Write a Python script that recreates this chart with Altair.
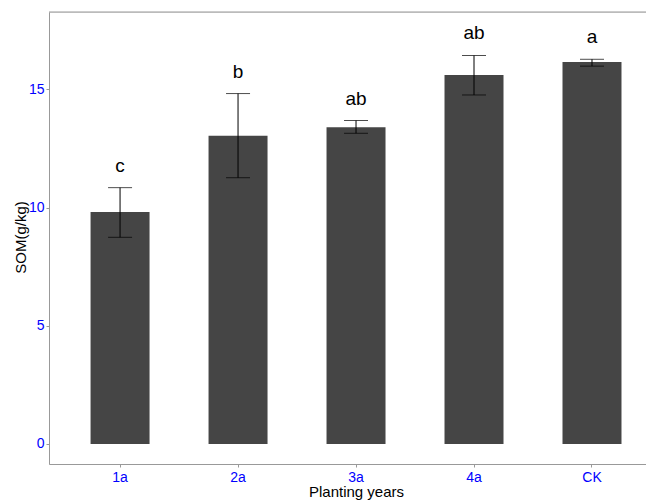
import altair as alt
import pandas as pd

categories = ["1a", "2a", "3a", "4a", "CK"]
means = [9.81, 13.03, 13.40, 15.61, 16.15]
upper = [10.84, 14.82, 13.68, 16.43, 16.27]
lower = [8.74, 11.26, 13.14, 14.76, 15.98]
letters = ["c", "b", "ab", "ab", "a"]

df = pd.DataFrame({"cat": categories, "mean": means, "hi": upper, "lo": lower, "lab": letters})

FONT = "Liberation Sans"
YDOM = [-0.85, 18.27]
W, H = 597, 452

xscale = alt.Scale(paddingInner=0.5, paddingOuter=0.28, align=0.629)
yscale = alt.Scale(domain=YDOM, nice=False, zero=False)

xenc = alt.X("cat:N", scale=xscale, sort=categories,
             axis=alt.Axis(title="Planting years", labelAngle=0, labelColor="#0000FF",
                           labelFontSize=14, labelFont=FONT, labelPadding=3,
                           tickSize=3, tickColor="#999999", domainColor="#999999",
                           titleFont=FONT, titleFontSize=15, titleFontWeight="normal",
                           titleColor="#000000", titleX=307, titleY=27,
                           titleBaseline="middle", grid=False))
yaxis = alt.Axis(title="SOM(g/kg)", values=[0, 5, 10, 15], labelColor="#0000FF",
                 labelFontSize=14, labelFont=FONT, labelPadding=2,
                 tickSize=3, tickColor="#999999", domainColor="#999999",
                 titleFont=FONT, titleFontSize=15, titleFontWeight="normal",
                 titleColor="#000000", titleX=-29, titleY=225, titleAngle=-90,
                 titleBaseline="middle", grid=False)

base = alt.Chart(df)

bars = base.mark_bar(color="#454545").encode(
    x=xenc,
    y=alt.Y("mean:Q", scale=yscale, axis=yaxis),
    y2=alt.datum(0),
)

err = base.mark_rule(color="#000000", strokeWidth=1).encode(
    x=alt.X("cat:N", sort=categories), y="lo:Q", y2="hi:Q")
cap_hi = base.mark_tick(color="#000000", orient="horizontal", size=24, thickness=1).encode(
    x=alt.X("cat:N", sort=categories), y="hi:Q")
cap_lo = base.mark_tick(color="#000000", orient="horizontal", size=24, thickness=1).encode(
    x=alt.X("cat:N", sort=categories), y="lo:Q")

txt = base.mark_text(font=FONT, fontSize=19, color="#000000", baseline="alphabetic", dy=-16).encode(
    x=alt.X("cat:N", sort=categories), y="hi:Q", text="lab:N")

top_border = alt.Chart(pd.DataFrame({"v": [YDOM[1]]})).mark_rule(color="#999999", strokeWidth=1).encode(
    y=alt.Y("v:Q"), x=alt.value(0), x2=alt.value(W + 10))

chart = alt.layer(bars, err, cap_hi, cap_lo, txt, top_border).properties(
    width=W, height=H,
    autosize=alt.AutoSizeParams(type="none"),
    padding={"left": 41, "top": 4, "right": 0, "bottom": 40},
).configure_view(stroke=None).configure(background="#FFFFFF")

chart.save("out.html", embed_options={"renderer": "svg", "actions": False})
